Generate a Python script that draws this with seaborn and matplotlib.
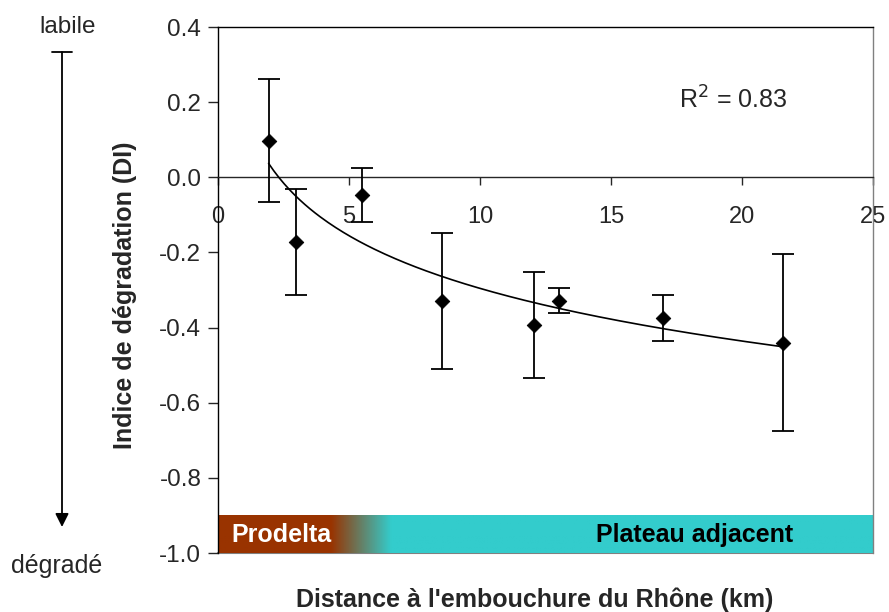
import numpy as np
import pandas as pd
import matplotlib.pyplot as plt
import seaborn as sns
from matplotlib.lines import Line2D
from matplotlib.colors import to_rgb

sns.set_style("white")
plt.rcParams['font.family'] = ['Liberation Sans', 'DejaVu Sans']

# ----------------- data -----------------
distance_km = [1.93, 2.97, 5.49, 8.54, 12.05, 13.01, 16.97, 21.55]
di_mean = [0.097, -0.172, -0.046, -0.329, -0.394, -0.328, -0.375, -0.440]
di_err = [0.164, 0.140, 0.072, 0.181, 0.141, 0.034, 0.062, 0.235]
x_ticks = [0, 5, 10, 15, 20, 25]
y_ticks = [0.4, 0.2, 0.0, -0.2, -0.4, -0.6, -0.8, -1.0]
zones = ["Prodelta", "Plateau adjacent"]
zone_colors = ["#993300", "#33CCCC"]
zone_fade = [4.3, 6.6]  # km where the colour band goes from brown to teal

df = pd.DataFrame({'dist': distance_km, 'DI': di_mean, 'err': di_err})

# logarithmic trend line fitted to the means
slope, intercept = np.polyfit(np.log(df['dist']), df['DI'], 1)
pred = slope * np.log(df['dist']) + intercept
r2 = 1 - ((df['DI'] - pred) ** 2).sum() / ((df['DI'] - df['DI'].mean()) ** 2).sum()
xs = np.linspace(df['dist'].min(), df['dist'].max(), 200)
trend = pd.DataFrame({'dist': xs, 'DI': slope * np.log(xs) + intercept})

fig = plt.figure(figsize=(8.89, 6.12), dpi=100)
ax = fig.add_axes([218 / 889, 59 / 612, 655 / 889, 526 / 612])

# colour band for the two zones
cols = np.linspace(0, 25, 400)
t = np.clip((cols - zone_fade[0]) / (zone_fade[1] - zone_fade[0]), 0, 1)
c0, c1 = np.array(to_rgb(zone_colors[0])), np.array(to_rgb(zone_colors[1]))
band = (c0[None, :] * (1 - t[:, None]) + c1[None, :] * t[:, None])[None, :, :]
ax.imshow(band, extent=[0, 25, -1.0, -0.9], aspect='auto', zorder=1)
ax.text(0.5, -0.952, zones[0], color='white', fontsize=18, fontweight='bold',
        va='center', ha='left', zorder=3)
ax.text(18.2, -0.952, zones[1], color='black', fontsize=18, fontweight='bold',
        va='center', ha='center', zorder=3)

sns.lineplot(data=trend, x='dist', y='DI', color='black', lw=1.2, ax=ax, zorder=4)
ax.errorbar(df['dist'], df['DI'], yerr=df['err'], fmt='none', ecolor='black',
            elinewidth=1.3, capsize=8, capthick=1.3, zorder=5)
sns.scatterplot(data=df, x='dist', y='DI', marker='D', color='black', s=55,
                edgecolor='black', ax=ax, zorder=6)

ax.text(17.6, 0.205, f"R$^2$ = {r2:.2f}", fontsize=18, va='center', ha='left')

ax.set_xlim(0, 25)
ax.set_ylim(-1.0, 0.4)
ax.set_xticks(x_ticks)
ax.set_yticks(y_ticks)
ax.set_yticklabels([f"{v:.1f}" for v in y_ticks])
ax.spines['bottom'].set_position(('data', 0))
ax.spines['right'].set_color('#808080')
for s in ['left', 'top', 'right', 'bottom']:
    ax.spines[s].set_linewidth(1.0)
ax.spines['left'].set_color('black')
ax.spines['top'].set_color('black')
ax.axhline(-1.0, color='#808080', lw=1.5, zorder=0, clip_on=False)
ax.tick_params(axis='x', direction='out', length=6, width=1, pad=15,
               labelsize=17, bottom=True)
ax.tick_params(axis='y', direction='out', length=7, width=1, pad=5,
               labelsize=17.5, left=True)
ax.set_xlabel("")
ax.set_ylabel("Indice de dégradation (DI)", fontsize=18, fontweight='bold')
ax.yaxis.set_label_coords(-0.123, 0.49)
fig.text(535 / 889, 1 - 600 / 612, "Distance à l'embouchure du Rhône (km)",
         fontsize=18, fontweight='bold', ha='center', va='center')

# labile -> dégradé arrow on the left
fig.text(68 / 889, 1 - 27 / 612, "labile", fontsize=17.5, ha='center', va='center')
fig.text(57 / 889, 1 - 566 / 612, "dégradé", fontsize=18, ha='center', va='center')
fig.add_artist(Line2D([52 / 889, 72 / 889], [1 - 52 / 612, 1 - 52 / 612],
                      color='black', lw=1.3))
ax.annotate("", xy=(62 / 889, 1 - 527 / 612), xytext=(62 / 889, 1 - 52 / 612),
            xycoords='figure fraction', textcoords='figure fraction',
            arrowprops=dict(arrowstyle='-|>', color='black', lw=1.3,
                            mutation_scale=20, shrinkA=0, shrinkB=0))

fig.savefig("out.png", dpi=100)
